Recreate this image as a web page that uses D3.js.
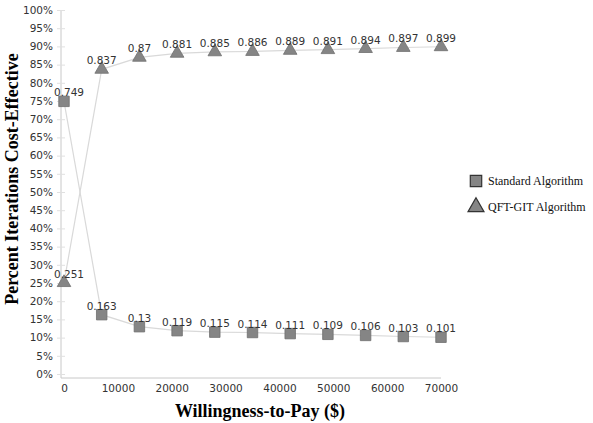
<!DOCTYPE html>
<html>
<head>
<meta charset="utf-8">
<script src="https://cdn.jsdelivr.net/npm/d3@7"></script>
<style>
  body { margin: 0; background: #fff; }
  svg { display: block; }
</style>
</head>
<body>
<div id="chart"></div>
<script>
// Data
const wtp = [0, 7000, 14000, 21000, 28000, 35000, 42000, 49000, 56000, 63000, 70000];
const standardAlg = [0.749, 0.163, 0.13, 0.119, 0.115, 0.114, 0.111, 0.109, 0.106, 0.103, 0.101];
const qftGitAlg = [0.251, 0.837, 0.87, 0.881, 0.885, 0.886, 0.889, 0.891, 0.894, 0.897, 0.899];
const xTicks = [0, 10000, 20000, 30000, 40000, 50000, 60000, 70000];
const yTicks = d3.range(0, 1.0001, 0.05);

const width = 593, height = 423;
const svg = d3.select('#chart').append('svg')
    .attr('width', width)
    .attr('height', height);

const x = d3.scaleLinear().domain([0, 70000]).range([64, 441]);
const y = d3.scaleLinear().domain([0, 1]).range([374, 10]);

const tickFont = 'Verdana, "DejaVu Sans", sans-serif';
const serif = '"Liberation Serif", "Times New Roman", serif';

// y axis
const yAxis = svg.append('g').attr('transform', 'translate(61,0)')
    .call(d3.axisLeft(y).tickValues(yTicks).tickSize(4).tickPadding(4)
        .tickFormat(d => Math.round(d * 100) + '%'));
yAxis.select('.domain').attr('stroke', '#c8c8c8').attr('d', 'M0,10V378');
yAxis.selectAll('.tick line').attr('stroke', '#e0e0e0').attr('x2', 4).attr('x1', -4);
yAxis.selectAll('.tick text').attr('fill', '#333').style('font-family', tickFont).style('font-size', '10.5px');

// x axis
const xAxis = svg.append('g').attr('transform', 'translate(0,378)')
    .call(d3.axisBottom(x).tickValues(xTicks).tickSize(0).tickPadding(7)
        .tickFormat(d3.format('d')));
xAxis.select('.domain').attr('stroke', '#c8c8c8').attr('d', 'M61,0H441');
xAxis.selectAll('.tick text').attr('fill', '#333').style('font-family', tickFont).style('font-size', '10.5px');

// axis titles
svg.append('text')
    .attr('x', 260).attr('y', 417)
    .attr('text-anchor', 'middle')
    .style('font-family', serif).style('font-weight', 'bold').style('font-size', '18px')
    .text('Willingness-to-Pay ($)');

svg.append('text')
    .attr('transform', 'translate(18,179) rotate(-90)')
    .attr('text-anchor', 'middle')
    .style('font-family', serif).style('font-weight', 'bold').style('font-size', '18px')
    .text('Percent Iterations Cost-Effective');

const line = d3.line().x((d, i) => x(wtp[i])).y(d => y(d));

const series = [
    { name: 'Standard Algorithm', values: standardAlg, symbol: d3.symbolSquare },
    { name: 'QFT-GIT Algorithm', values: qftGitAlg, symbol: d3.symbolTriangle }
];

series.forEach(s => {
    svg.append('path')
        .datum(s.values)
        .attr('d', line)
        .attr('fill', 'none')
        .attr('stroke', '#d9d9d9')
        .attr('stroke-width', 1.2);
});

series.forEach(s => {
    const size = s.symbol === d3.symbolSquare ? 110 : 80;
    svg.append('g').selectAll('path')
        .data(s.values)
        .enter().append('path')
        .attr('transform', (d, i) => `translate(${x(wtp[i])},${y(d)})`)
        .attr('d', d3.symbol().type(s.symbol).size(size))
        .attr('fill', '#858585')
        .attr('stroke', '#6e6e6e')
        .attr('stroke-width', 0.8);

    svg.append('g').selectAll('text')
        .data(s.values)
        .enter().append('text')
        .attr('x', (d, i) => x(wtp[i]) + (i === 0 ? 5 : 0))
        .attr('y', d => y(d) - 5)
        .attr('text-anchor', 'middle')
        .attr('fill', '#333')
        .style('font-family', tickFont)
        .style('font-size', '10.5px')
        .text(d => String(d));
});

// legend
const legend = svg.append('g').attr('transform', 'translate(476,0)');
series.forEach((s, i) => {
    const ly = 181 + i * 26;
    legend.append('path')
        .attr('transform', `translate(0,${ly})`)
        .attr('d', d3.symbol().type(s.symbol).size(s.symbol === d3.symbolSquare ? 130 : 110))
        .attr('fill', '#858585')
        .attr('stroke', '#333')
        .attr('stroke-width', 1.2);
    legend.append('text')
        .attr('x', 12).attr('y', ly + 4)
        .style('font-family', serif).style('font-size', '12px')
        .attr('fill', '#111')
        .text(s.name);
});
</script>
</body>
</html>
